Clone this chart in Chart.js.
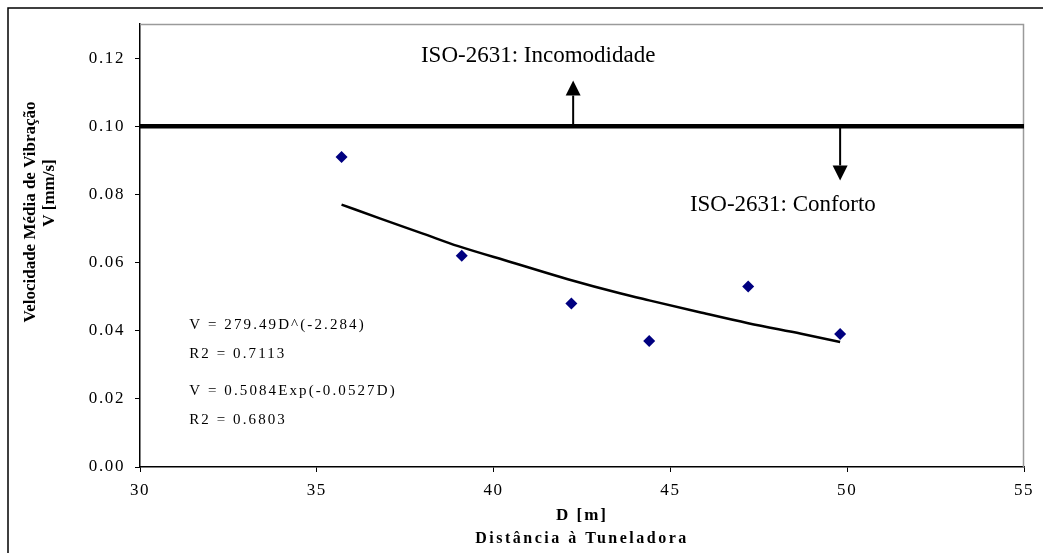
<!DOCTYPE html>
<html lang="pt">
<head>
  <meta charset="UTF-8" />
  <title>Velocidade de vibração vs distância à tuneladora</title>
  <script src="https://cdn.jsdelivr.net/npm/chart.js"></script>
  <style>
    body {
      margin: 0;
      background: #fff;
    }

    #wrap {
      width: 1043px;
      height: 553px;
      position: relative;
    }
  </style>
</head>
<body>

  <div id="wrap">
    <canvas id="vibChart"></canvas>
  </div>

  <script>
    // measured points
    const measD = [35.7, 39.1, 42.2, 44.4, 47.2, 49.8];
    const measV = [0.091, 0.062, 0.048, 0.037, 0.053, 0.039];

    // trend line
    const trendD = [35.7, 36.8, 38.0, 39.0, 40.5, 42.1, 43.6, 44.4, 45.8, 47.2, 48.7, 49.8];
    const trendV = [0.077, 0.0729, 0.0685, 0.0648, 0.0601, 0.0551, 0.0509, 0.0489, 0.0455, 0.0422, 0.0391, 0.0367];

    // ISO-2631 limit
    const limitD = [30, 55];
    const limitV = [0.10, 0.10];

    // arrows: [x, from, to]
    const arrowUp = [42.25, 0.10, 0.1134];
    const arrowDown = [49.8, 0.10, 0.0841];

    const xTicks = [30, 35, 40, 45, 50, 55];
    const yTicks = [0.00, 0.02, 0.04, 0.06, 0.08, 0.10, 0.12];

    const labelUp = 'ISO-2631: Incomodidade';
    const labelDown = 'ISO-2631: Conforto';
    const eqLines = ['V = 279.49D^(-2.284)', 'R2 = 0.7113', 'V = 0.5084Exp(-0.0527D)', 'R2 = 0.6803'];
    const yTitle = ['Velocidade Média de Vibração', 'V [mm/s]'];
    const xTitle = ['D [m]', 'Distância à Tuneladora'];

    const serif = '"Liberation Serif", "Times New Roman", serif';

    function pts(xs, ys) {
      return xs.map((x, i) => ({ x: x, y: ys[i] }));
    }

    const extras = {
      id: 'extras',
      beforeDraw(chart) {
        chart.ctx.letterSpacing = '1.6px';
      },
      beforeDatasetsDraw(chart) {
        const ctx = chart.ctx;
        const a = chart.chartArea;
        ctx.save();
        ctx.strokeStyle = '#9a9a9a';
        ctx.lineWidth = 1.5;
        ctx.beginPath();
        ctx.moveTo(a.left, a.top + 0.5);
        ctx.lineTo(a.right - 0.5, a.top + 0.5);
        ctx.lineTo(a.right - 0.5, a.bottom);
        ctx.stroke();
        ctx.restore();
      },
      afterDraw(chart) {
        const ctx = chart.ctx;
        const xs = chart.scales.x;
        const ys = chart.scales.y;
        ctx.save();
        ctx.letterSpacing = '0px';

        // outer frame
        ctx.strokeStyle = '#000';
        ctx.lineWidth = 1.5;
        ctx.strokeRect(8, 8, 1200, 700);

        // arrows
        function arrow(spec) {
          const px = xs.getPixelForValue(spec[0]);
          const y0 = ys.getPixelForValue(spec[1]);
          const y1 = ys.getPixelForValue(spec[2]);
          const dir = y1 < y0 ? 1 : -1;
          const head = 15;
          ctx.strokeStyle = '#000';
          ctx.fillStyle = '#000';
          ctx.lineWidth = 2;
          ctx.beginPath();
          ctx.moveTo(px, y0);
          ctx.lineTo(px, y1 + dir * head);
          ctx.stroke();
          ctx.beginPath();
          ctx.moveTo(px, y1);
          ctx.lineTo(px - 7.5, y1 + dir * head);
          ctx.lineTo(px + 7.5, y1 + dir * head);
          ctx.closePath();
          ctx.fill();
        }
        arrow(arrowUp);
        arrow(arrowDown);

        // ISO labels
        ctx.fillStyle = '#000';
        ctx.font = '23px ' + serif;
        ctx.textAlign = 'center';
        ctx.textBaseline = 'middle';
        ctx.fillText(labelUp, xs.getPixelForValue(41.26), ys.getPixelForValue(0.1207));
        ctx.fillText(labelDown, xs.getPixelForValue(48.18), ys.getPixelForValue(0.0770));

        // fit equations
        ctx.font = '15px ' + serif;
        ctx.letterSpacing = '2.1px';
        ctx.textAlign = 'left';
        const eqY = [0.0416, 0.0331, 0.0222, 0.0137];
        eqLines.forEach((t, i) => {
          ctx.fillText(t, xs.getPixelForValue(31.39), ys.getPixelForValue(eqY[i]));
        });

        // x title
        ctx.textAlign = 'center';
        ctx.font = 'bold 17px ' + serif;
        ctx.letterSpacing = '2px';
        const cx = (chart.chartArea.left + chart.chartArea.right) / 2;
        ctx.fillText(xTitle[0], cx, 516);
        ctx.font = 'bold 16px ' + serif;
        ctx.letterSpacing = '2.5px';
        ctx.fillText(xTitle[1], cx, 539);

        // y title
        ctx.letterSpacing = '0px';
        ctx.font = 'bold 17px ' + serif;
        ctx.save();
        ctx.translate(31, 212);
        ctx.rotate(-Math.PI / 2);
        ctx.fillText(yTitle[0], 0, 0);
        ctx.restore();
        ctx.save();
        ctx.translate(50, 193);
        ctx.rotate(-Math.PI / 2);
        ctx.fillText(yTitle[1], 0, 0);
        ctx.restore();

        ctx.restore();
      }
    };

    const tickFont = { family: serif, size: 17 };

    new Chart(document.getElementById('vibChart'), {
      type: 'scatter',
      data: {
        datasets: [
          {
            label: 'limite',
            data: pts(limitD, limitV),
            showLine: true,
            borderColor: '#000',
            borderWidth: 4.5,
            pointRadius: 0
          },
          {
            label: 'tendência',
            data: pts(trendD, trendV),
            showLine: true,
            borderColor: '#000',
            borderWidth: 2.5,
            pointRadius: 0,
            cubicInterpolationMode: 'monotone'
          },
          {
            label: 'medições',
            data: pts(measD, measV),
            pointStyle: 'rectRot',
            pointRadius: 6,
            backgroundColor: '#000080',
            borderColor: '#000080',
            borderWidth: 0
          }
        ]
      },
      options: {
        responsive: true,
        maintainAspectRatio: false,
        animation: false,
        layout: { padding: { left: 0, top: 24, right: 19, bottom: 0 } },
        plugins: {
          legend: { display: false },
          tooltip: { enabled: false }
        },
        scales: {
          x: {
            type: 'linear',
            min: 30,
            max: 55,
            afterFit: s => { s.height = 86; },
            afterBuildTicks: s => { s.ticks = xTicks.map(v => ({ value: v })); },
            grid: { drawOnChartArea: false, tickLength: 5, color: '#000' },
            border: { color: '#000', width: 1.5 },
            ticks: { font: tickFont, color: '#000', padding: 8, maxRotation: 0 }
          },
          y: {
            type: 'linear',
            min: 0,
            max: 0.13,
            afterFit: s => { s.width = 140; },
            afterBuildTicks: s => { s.ticks = yTicks.map(v => ({ value: v })); },
            grid: { drawOnChartArea: false, tickLength: 5, color: '#000' },
            border: { color: '#000', width: 1.5 },
            ticks: { font: tickFont, color: '#000', padding: 10, callback: v => v.toFixed(2) }
          }
        }
      },
      plugins: [extras]
    });
  </script>

</body>
</html>
